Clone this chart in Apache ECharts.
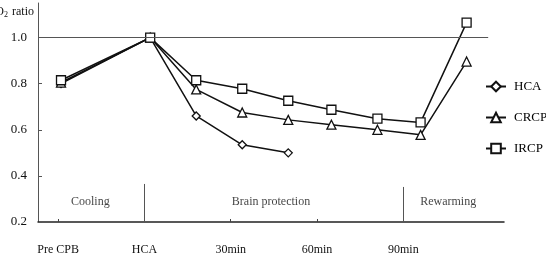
<!DOCTYPE html>
<html lang="en">
<head>
    <meta charset="UTF-8">
    <title>O2 ratio</title>
    <script src="https://cdn.jsdelivr.net/npm/echarts@6/dist/echarts.min.js"></script>
    <style>
        html, body { margin: 0; padding: 0; background: #fff; }
        #main { width: 546px; height: 257px; }
    </style>
</head>
<body>
<div id="main"></div>
<script type="text/javascript">
    // time points (minutes relative to HCA start; Pre CPB placed at -30)
    var xTickValues = [-30, 0, 30, 60, 90];
    var xTickLabels = ['Pre CPB', 'HCA', '30min', '60min', '90min'];
    var yTickValues = [0.2, 0.4, 0.6, 0.8, 1.0];

    var timeHCA  = [-29, 2, 18, 34, 50];
    var valueHCA = [0.80, 1.00, 0.66, 0.535, 0.50];

    var timeGroup  = [-29, 2, 18, 34, 50, 65, 81, 96, 112];
    var valueCRCP  = [0.805, 1.00, 0.775, 0.675, 0.643, 0.622, 0.600, 0.578, 0.896];
    var valueIRCP  = [0.815, 1.00, 0.815, 0.778, 0.726, 0.687, 0.648, 0.632, 1.065];

    var phaseNames   = ['Cooling', 'Brain protection', 'Rewarming'];
    var phaseCenters = [-18.8, 44, 105.6];
    var phaseBounds  = [0, 90];

    function pairs(xs, ys) {
        var out = [];
        for (var i = 0; i < xs.length; i++) out.push([xs[i], ys[i]]);
        return out;
    }

    var font = 'Liberation Serif';
    var myChart = echarts.init(document.getElementById('main'));

    var lineBase = {
        type: 'line',
        symbolSize: 9,
        lineStyle: { color: '#111', width: 1.5 },
        itemStyle: { color: '#fff', borderColor: '#111', borderWidth: 1.3 },
        animation: false
    };

    var option = {
        backgroundColor: '#fff',
        textStyle: { fontFamily: font },
        grid: { left: 38, right: 42, top: 3, bottom: 35 },
        legend: {
            orient: 'vertical',
            left: 480,
            top: 75,
            itemWidth: 20,
            itemHeight: 12,
            itemGap: 18,
            data: ['HCA', 'CRCP', 'IRCP'],
            textStyle: { fontFamily: font, fontSize: 13, color: '#000', padding: [0, 0, 0, 3] }
        },
        graphic: [{
            type: 'text',
            right: 512,
            top: 6,
            style: {
                text: '{a|SjO}{s|2}{a| ratio}',
                align: 'right',
                rich: {
                    a: { fontFamily: font, fontSize: 12, fill: '#111' },
                    s: { fontFamily: font, fontSize: 8, fill: '#111', padding: [6, 1, 0, 0] }
                }
            }
        }],
        xAxis: {
            type: 'value',
            min: -37,
            max: 125,
            splitLine: { show: false },
            axisLine: { onZero: false, lineStyle: { color: '#222', width: 1.5 } },
            axisTick: {
                show: true, inside: true, length: 3,
                customValues: [-30, 30, 60],
                lineStyle: { color: '#444' }
            },
            axisLabel: {
                customValues: xTickValues,
                margin: 22,
                fontFamily: font,
                fontSize: 12,
                color: '#111',
                formatter: function (v) {
                    var i = xTickValues.indexOf(v);
                    return i >= 0 ? xTickLabels[i] : '';
                }
            }
        },
        yAxis: {
            type: 'value',
            min: 0.2,
            max: 1.15,
            splitLine: { show: false },
            axisLine: { onZero: false, lineStyle: { color: '#555', width: 1 } },
            axisTick: { show: true, inside: true, length: 4, customValues: yTickValues, lineStyle: { color: '#555' } },
            axisLabel: {
                customValues: yTickValues,
                margin: 11,
                fontFamily: font,
                fontSize: 13,
                color: '#111',
                formatter: function (v) { return v.toFixed(1); }
            }
        },
        series: [
            Object.assign({}, lineBase, { name: 'HCA', symbol: 'diamond', symbolSize: 8, data: pairs(timeHCA, valueHCA) }),
            Object.assign({}, lineBase, { name: 'CRCP', symbol: 'triangle', data: pairs(timeGroup, valueCRCP) }),
            Object.assign({}, lineBase, { name: 'IRCP', symbol: 'rect', symbolSize: 9, data: pairs(timeGroup, valueIRCP) }),
            {
                name: 'phases',
                type: 'scatter',
                symbolSize: 0,
                silent: true,
                animation: false,
                data: phaseCenters.map(function (c, i) { return { value: [c, 0.287], name: phaseNames[i] }; }),
                label: {
                    show: true, position: 'inside', formatter: '{b}',
                    fontFamily: font, fontSize: 12, color: '#111'
                },
                markLine: {
                    silent: true,
                    symbol: 'none',
                    animation: false,
                    label: { show: false },
                    lineStyle: { type: 'solid', color: '#555', width: 1 },
                    data: [
                        [{ coord: [-37, 1.0] }, { coord: [119.5, 1.0] }],
                        [{ coord: [phaseBounds[0], 0.2] }, { coord: [phaseBounds[0], 0.365] }],
                        [{ coord: [phaseBounds[1], 0.2] }, { coord: [phaseBounds[1], 0.352] }]
                    ]
                }
            }
        ]
    };
    myChart.setOption(option);
</script>
</body>
</html>
